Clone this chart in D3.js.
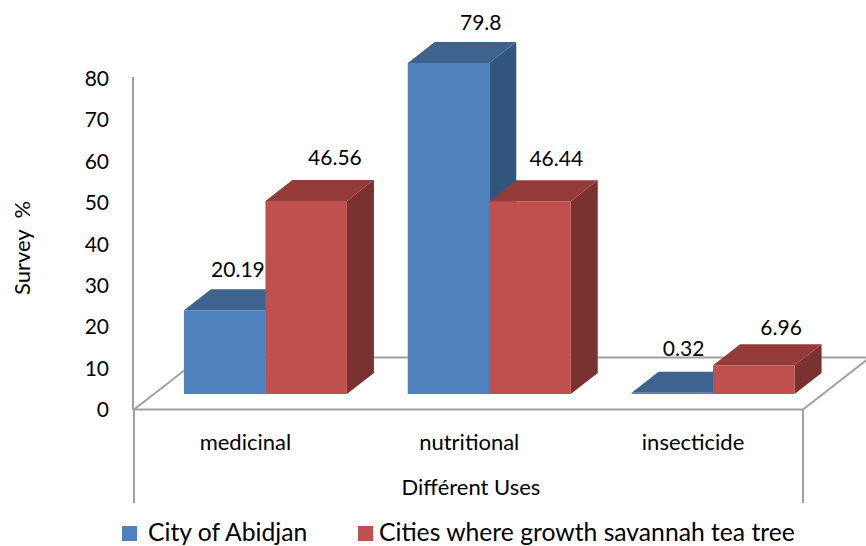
<!DOCTYPE html>
<html><head><meta charset="utf-8">
<script src="https://cdn.jsdelivr.net/npm/d3@7/dist/d3.min.js"></script>
<style>html,body{margin:0;background:#fff}svg{display:block}text{font-family:Lato,"Open Sans",sans-serif;fill:#000}</style>
</head><body><svg id="c" width="866" height="546"></svg>
<script>
const categories = ["medicinal","nutritional","insecticide"];
const seriesNames = ["City of Abidjan","Cities where growth savannah tea tree"];
const abidjan = [20.19,79.8,0.32];
const savannah = [46.56,46.44,6.96];
const labelsAbidjan = ["20.19","79.8","0.32"];
const labelsSavannah = ["46.56","46.44","6.96"];
const yTicks = [0,10,20,30,40,50,60,70,80];

const svg = d3.select("#c");
const barBase = 394, depthX = 27, depthY = 21;
// categories and bars
const x0 = d3.scaleBand().domain(categories).range([133.5,805]);
const x1 = d3.scaleBand().domain([0,1]).range([0,163]);
const barH = d3.scaleLinear().domain([0,79.8]).range([0,331]);
const yAxisS = d3.scaleLinear().domain([0,80]).range([409,78]);
const grey = "#a0a0a0";
const line = (a,b,c,d,w=2)=>svg.append("line").attr("x1",a).attr("y1",b).attr("x2",c).attr("y2",d).attr("stroke",grey).attr("stroke-width",w);

// walls and floor
line(133,77,133,410);
line(134,410,134,503);
line(134,409.5,803,409.5);
line(803,409.5,803,503);
line(134,409.5,201,357.5);
line(201,357.5,866,357.5);
line(803,409.5,870,357.5);

// y ticks
const axis = d3.axisLeft(yAxisS).tickValues(yTicks).tickSize(0).tickPadding(0);
const gy = svg.append("g").attr("transform","translate(109,0)").call(axis);
gy.select(".domain").remove();
gy.selectAll("text").attr("font-size",21).attr("dy","0.36em").style("font-family","Lato,'Open Sans',sans-serif");

// bars
const palette = [
 {front:"#4f81bd",top:"#3d648f",side:"#32557d"},
 {front:"#c0504d",top:"#943b39",side:"#7a3230"}
];
const poly = (pts,fill)=>svg.append("polygon").attr("points",pts.map(p=>p.join(",")).join(" ")).attr("fill",fill);
const labelDx = [[54,69.5],[73,67],[52,68]];
const labelY = [[269,157],[22,158],[348,327]];
const all = [abidjan,savannah], labs=[labelsAbidjan,labelsSavannah];
categories.forEach((c,ci)=>{
  const start = x0(c)+x0.bandwidth()/2 - 61.5;
  all.forEach((vals,si)=>{
    const x = start + x1(si), w = x1.bandwidth(), v=barH(vals[ci]), t=barBase-v, col=palette[si];
    poly([[x+w,t],[x+w+depthX,t-depthY],[x+w+depthX,barBase-depthY],[x+w,barBase]],col.side);
    poly([[x,t],[x+depthX,t-depthY],[x+w+depthX,t-depthY],[x+w,t]],col.top);
    poly([[x,t],[x+w,t],[x+w,barBase],[x,barBase]],col.front);
    svg.append("text").attr("x",x+labelDx[ci][si]).attr("y",labelY[ci][si]).attr("dy","0.36em")
      .attr("text-anchor","middle").attr("font-size",21).text(labs[si][ci]);
  });
  svg.append("text").attr("x",x0(c)+x0.bandwidth()/2).attr("y",442).attr("dy","0.36em").attr("text-anchor","middle").attr("font-size",22).text(c);
});

svg.append("text").attr("x",471).attr("y",487).attr("dy","0.36em").attr("text-anchor","middle").attr("font-size",22).text("Différent Uses");
svg.append("text").attr("transform","translate(22,248) rotate(-90)").attr("dy","0.36em").attr("text-anchor","middle").attr("font-size",22).style("white-space","pre").text("Survey  %");

// legend
[[122,148],[358,379]].forEach(([bx,tx],i)=>{
  svg.append("rect").attr("x",bx).attr("y",526).attr("width",15).attr("height",15).attr("fill",palette[i].front);
  svg.append("text").attr("x",tx).attr("y",540.5).attr("font-size",24.7).text(seriesNames[i]);
});
</script></body></html>
